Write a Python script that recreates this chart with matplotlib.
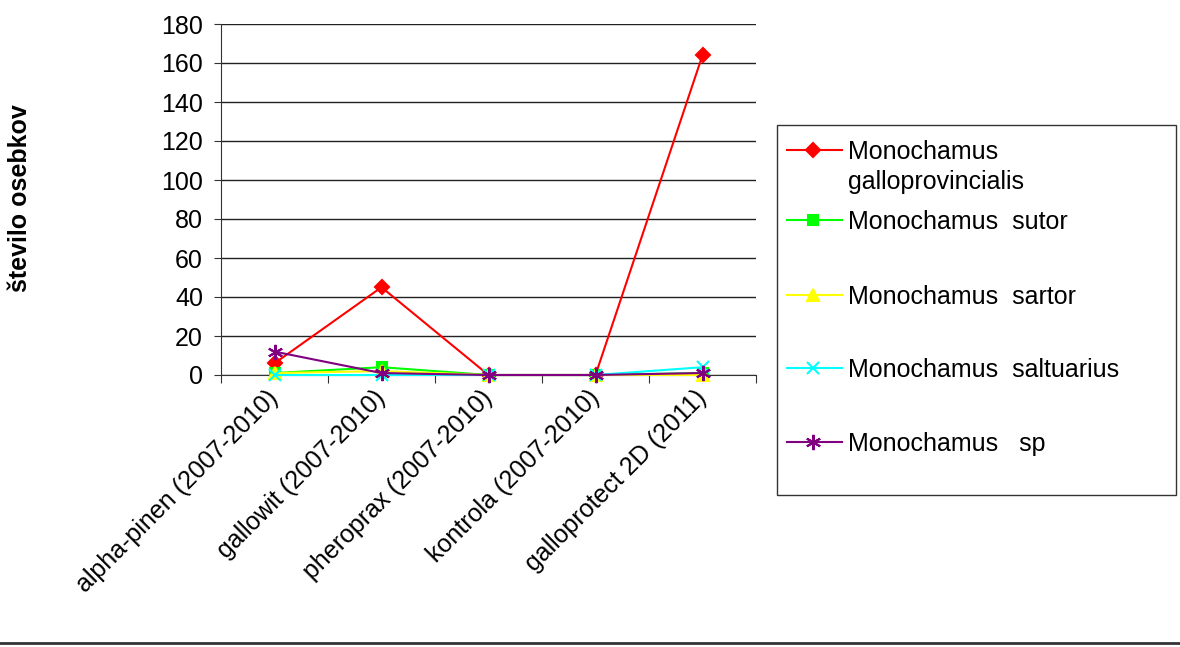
import matplotlib.pyplot as plt
from matplotlib.lines import Line2D
from matplotlib.patches import Rectangle
import numpy as np

plt.rcParams['font.family'] = ['Liberation Sans', 'DejaVu Sans']

categories = ["alpha-pinen (2007-2010)", "gallowit (2007-2010)", "pheroprax (2007-2010)",
              "kontrola (2007-2010)", "galloprotect 2D (2011)"]
galloprovincialis = [6, 45, 0, 0, 164]
sutor = [1, 4, 0, 0, 1]
sartor = [1, 2, 0, 0, 0]
saltuarius = [0, 0, 0, 0, 4]
sp = [12, 1, 0, 0, 1]

series = [
    (["Monochamus", "galloprovincialis"], galloprovincialis, "#ff0000", "D", 7),
    (["Monochamus  sutor"], sutor, "#00ff00", "s", 7),
    (["Monochamus  sartor"], sartor, "#ffff00", "^", 8),
    (["Monochamus  saltuarius"], saltuarius, "#00ffff", "x", 9),
    (["Monochamus   sp"], sp, "#800080", (6, 2, 0), 11),
]

W, H = 1180, 647
fig = plt.figure(figsize=(W / 100, H / 100), dpi=100)
ax = fig.add_axes([221 / W, 1 - 375 / H, 535 / W, 351 / H])

x = np.arange(len(categories))
for label, vals, col, mk, ms in series:
    ax.plot(x, vals, color=col, lw=1.5, marker=mk, markersize=ms,
            markerfacecolor=col, markeredgecolor=col, markeredgewidth=1.5, clip_on=False, zorder=3)

ax.set_xlim(-0.5, len(categories) - 0.5)
ax.set_ylim(0, 180)
ax.set_yticks(range(0, 181, 20))
ax.yaxis.grid(True, color="#222222", lw=1)
ax.set_axisbelow(True)
for s in ["top", "right"]:
    ax.spines[s].set_visible(False)
ax.spines["left"].set_color("#333333")
ax.spines["bottom"].set_color("#333333")

ax.set_xticks(np.arange(-0.5, len(categories), 1.0))
ax.set_xticklabels([])
ax.set_xticks(x, minor=True)
ax.set_xticklabels(categories, minor=True, rotation=45, ha="right", va="center",
                   rotation_mode="anchor", fontsize=18)
ax.tick_params(axis="x", which="minor", length=0, pad=14)
ax.tick_params(axis="x", which="major", length=6, direction="out", color="#333333")
ax.tick_params(axis="y", labelsize=18, length=5, pad=8, direction="out", color="#333333")

fig.text(20 / W, 1 - 198 / H, "število osebkov", rotation=90, fontsize=18,
         fontweight="bold", ha="center", va="center")

# legend drawn by hand to match the spacing of the original
fig.add_artist(Rectangle((777 / W, 1 - 495 / H), 399 / W, 370 / H, transform=fig.transFigure,
                         fill=False, edgecolor="#333333", lw=1))
rows = [150, 220, 295, 368, 442]
for (label, vals, col, mk, ms), ry in zip(series, rows):
    yy = 1 - ry / H
    fig.add_artist(Line2D([787 / W, 842 / W], [yy, yy], color=col, lw=1.5,
                          transform=fig.transFigure))
    fig.add_artist(Line2D([813 / W], [yy], color=col, marker=mk, markersize=ms,
                          markerfacecolor=col, markeredgecolor=col, markeredgewidth=1.5,
                          transform=fig.transFigure))
    for i, line in enumerate(label):
        fig.text(848 / W, 1 - (ry + 9 + 30 * i) / H, line, fontsize=18, va="baseline", ha="left")

fig.add_artist(Line2D([0, 1], [1 - 643 / H, 1 - 643 / H], color="#333333", lw=2,
                      transform=fig.transFigure))

fig.savefig("out.png", dpi=100)
